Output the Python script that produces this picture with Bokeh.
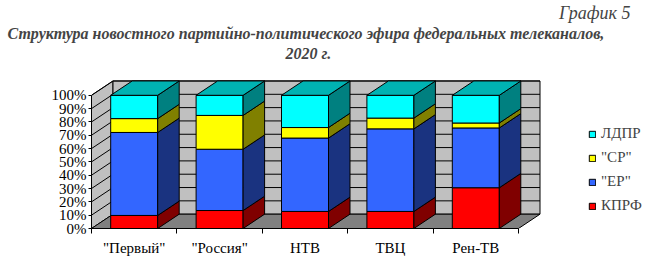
from bokeh.plotting import figure
from bokeh.models import FixedTicker, Range1d, Title, Legend, LegendItem, ColumnDataSource
from bokeh.embed import file_html
from bokeh.resources import INLINE

# ---- data ----
categories = ['"Первый"', '"Россия"', 'НТВ', 'ТВЦ', 'Рен-ТВ']
kprf = [9.8, 13.5, 12.8, 12.8, 30.6]
er = [62.3, 46.0, 55.1, 62.0, 44.9]
sr = [10.4, 25.4, 7.9, 8.1, 3.7]
ldpr = [17.5, 15.1, 24.2, 17.1, 20.8]
series_names = ["КПРФ", '"ЕР"', '"СР"', "ЛДПР"]
y_ticks = [0, 10, 20, 30, 40, 50, 60, 70, 80, 90, 100]
y_tick_labels = ["0%", "10%", "20%", "30%", "40%", "50%", "60%", "70%", "80%", "90%", "100%"]

front_colors = ["#FF0000", "#3366FF", "#FFFF00", "#00FFFF"]
side_colors = ["#800000", "#1A3380", "#808000", "#008080"]
top_color = "#00B3B3"
FONT = "Liberation Serif"

W, H = 651, 274
L, B = 91, 46
F_TOP = 60     # expected frame top (below the titles)
PX_X = 85.4   # pixels per category
PX_Y = 1.348  # pixels per percent
DX = 21.5 / PX_X
DY = 14.5 / PX_Y
BW = 47 / PX_X
n = len(categories)

p = figure(width=W, height=H, output_backend="svg", toolbar_location=None,
           x_range=Range1d(0, (W - L) / PX_X), y_range=Range1d(0, (H - B - F_TOP) / PX_Y),
           min_border_left=L, min_border_bottom=B, min_border_top=0, min_border_right=0,
           background_fill_color="white", border_fill_color="white")
p.outline_line_color = None
p.xgrid.visible = False
p.ygrid.visible = False

# walls and floor
p.patch([0, DX, DX, 0], [0, DY, 100 + DY, 100], fill_color="#C0C0C0", line_color="black", line_width=1)
p.quad(left=[DX], right=[n + DX], bottom=[DY], top=[100 + DY], fill_color="#C0C0C0", line_color="black", line_width=1)
p.patch([0, n, n + DX, DX], [0, 0, DY, DY], fill_color="#808080", line_color="black", line_width=1)
gx0, gy0, gx1, gy1 = [], [], [], []
for v in y_ticks[1:]:
    gx0 += [0, DX]; gy0 += [v, v + DY]; gx1 += [DX, n + DX]; gy1 += [v + DY, v + DY]
p.segment(x0=gx0, y0=gy0, x1=gx1, y1=gy1, line_color="black", line_width=1)

# bars
series = [kprf, er, sr, ldpr]
renderers = []
base = [0.0] * n
for s, vals in enumerate(series):
    bottoms = base[:]
    tops = [b + v for b, v in zip(bottoms, vals)]
    lefts = [i + 0.5 - BW / 2 for i in range(n)]
    rights = [i + 0.5 + BW / 2 for i in range(n)]
    src = ColumnDataSource(dict(left=lefts, right=rights, bottom=bottoms, top=tops))
    r = p.quad(left="left", right="right", bottom="bottom", top="top", source=src,
               fill_color=front_colors[s], line_color="black", line_width=1)
    renderers.append(r)
    xs = [[rr, rr + DX, rr + DX, rr] for rr in rights]
    ys = [[b, b + DY, t + DY, t] for b, t in zip(bottoms, tops)]
    p.patches(xs, ys, fill_color=side_colors[s], line_color="black", line_width=1)
    if s == len(series) - 1:
        txs = [[l, rr, rr + DX, l + DX] for l, rr in zip(lefts, rights)]
        tys = [[t, t, t + DY, t + DY] for t in tops]
        p.patches(txs, tys, fill_color=top_color, line_color="black", line_width=1)
    base = tops

# axes
p.yaxis.ticker = FixedTicker(ticks=y_ticks)
p.yaxis.major_label_overrides = {t: l for t, l in zip(y_ticks, y_tick_labels)}
p.yaxis.bounds = (0, 100)
p.yaxis.minor_tick_line_color = None
p.yaxis.major_tick_out = 3
p.yaxis.major_tick_in = 0
p.yaxis.major_label_standoff = 2
p.yaxis.axis_line_color = "black"
p.yaxis.major_label_text_font = FONT
p.yaxis.major_label_text_font_size = "15px"
p.yaxis.major_label_text_color = "black"

p.xaxis.ticker = FixedTicker(ticks=[i + 0.5 for i in range(n)], minor_ticks=list(range(n + 1)))
p.xaxis.major_label_overrides = {i + 0.5: c for i, c in enumerate(categories)}
p.xaxis.bounds = (0, n)
p.xaxis.major_tick_line_color = None
p.xaxis.major_tick_out = 0
p.xaxis.major_tick_in = 0
p.xaxis.minor_tick_out = 5
p.xaxis.minor_tick_in = 0
p.xaxis.minor_tick_line_color = "black"
p.xaxis.major_label_standoff = 6
p.xaxis.axis_line_color = "black"
p.xaxis.major_label_text_font = FONT
p.xaxis.major_label_text_font_size = "15px"
p.xaxis.major_label_text_color = "black"

# legend
items = [LegendItem(label=series_names[s], renderers=[renderers[s]]) for s in [3, 2, 1, 0]]
legend = Legend(items=items, location=(497, 14), glyph_width=8, glyph_height=8,
                label_standoff=5, spacing=7, label_height=16, padding=0, margin=0,
                border_line_color=None, background_fill_alpha=0,
                label_text_font=FONT, label_text_font_size="15px")
p.add_layout(legend)

# titles (added nearest-to-frame first)
p.add_layout(Title(text="2020 г.", align="left", offset=285 - L, standoff=1,
                   text_font=FONT, text_font_style="bold italic", text_font_size="16px"), "above")
p.add_layout(Title(text="Структура новостного партийно-политического эфира федеральных телеканалов,",
                   align="left", offset=7 - L, standoff=1,
                   text_font=FONT, text_font_style="bold italic", text_font_size="16px"), "above")
p.add_layout(Title(text="График 5", align="right", offset=W - 630, standoff=0,
                   text_font=FONT, text_font_style="italic", text_font_size="18px"), "above")

open("out.html", "w").write(file_html(p, INLINE))
